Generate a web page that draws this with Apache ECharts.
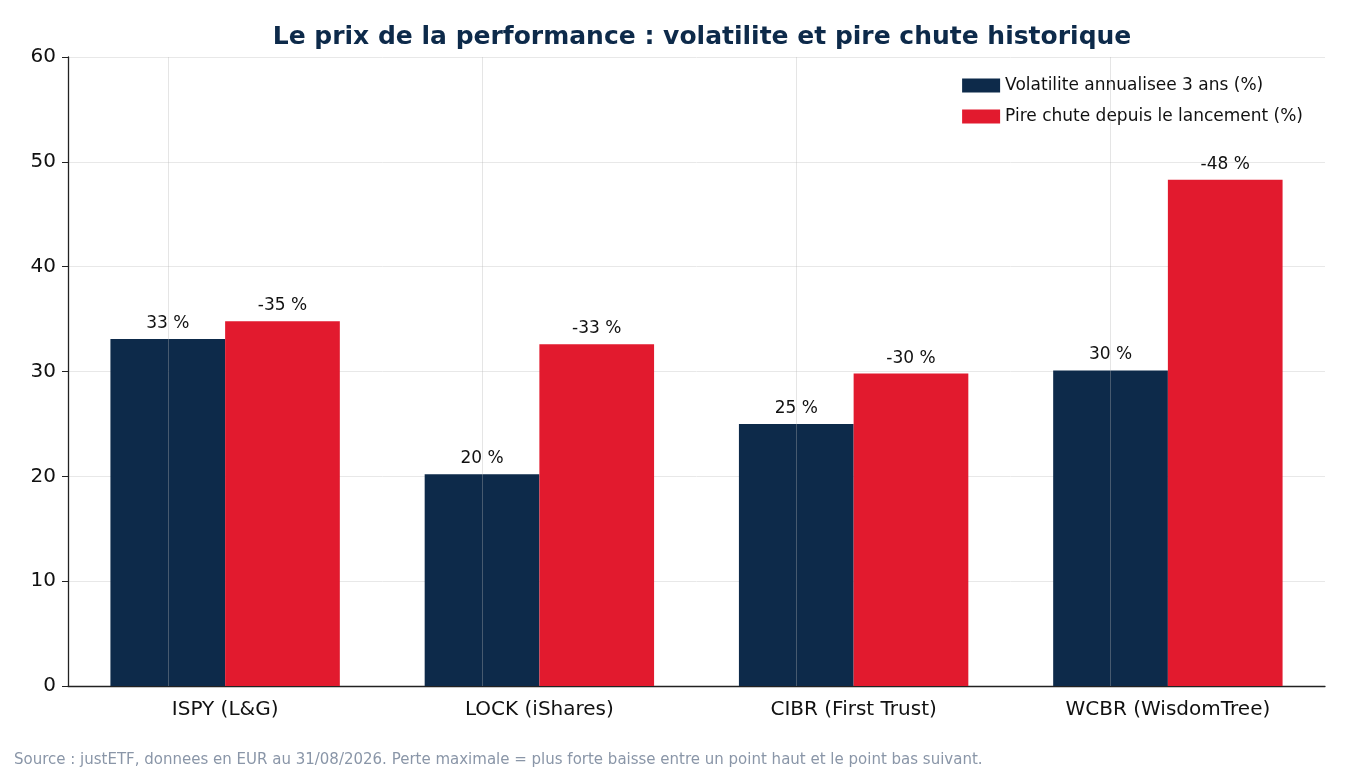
<!DOCTYPE html>
<html><head><meta charset="utf-8">
<script src="https://cdn.jsdelivr.net/npm/echarts@6/dist/echarts.min.js"></script>
<style>html,body{margin:0;padding:0;background:#fff}#c{width:1350px;height:780px}</style>
</head><body><div id="c"></div>
<script>
const categories = ['ISPY (L&G)', 'LOCK (iShares)', 'CIBR (First Trust)', 'WCBR (WisdomTree)'];
const volatility = [33.1, 20.2, 25.0, 30.1];
const drawdown = [34.8, 32.6, 29.8, 48.3];
const volLabels = ['33 %', '20 %', '25 %', '30 %'];
const ddLabels = ['-35 %', '-33 %', '-30 %', '-48 %'];
const yTicks = [0, 10, 20, 30, 40, 50, 60];
const F = 'DejaVu Sans';
const chart = echarts.init(document.getElementById('c'));
chart.setOption({
  animation: false,
  textStyle: { fontFamily: F },
  title: { text: 'Le prix de la performance : volatilite et pire chute historique', left: 697, top: 20, textAlign: 'center',
    textStyle: { fontFamily: F, fontSize: 25, fontWeight: 'bold', color: '#0d2a4a' } },
  legend: { right: 42, top: 72, orient: 'vertical', itemWidth: 38, itemHeight: 14, itemGap: 14,
    textStyle: { fontFamily: F, fontSize: 17, color: '#111' }, icon: 'rect' },
  graphic: [{ type: 'text', left: 14, top: 753, style: { text: 'Source : justETF, donnees en EUR au 31/08/2026. Perte maximale = plus forte baisse entre un point haut et le point bas suivant.', fontFamily: F, fontSize: 15, fill: '#8a96a8' } }],
  grid: { left: 68, right: 25, top: 57, bottom: 94 },
  xAxis: { type: 'category', data: categories,
    axisLine: { lineStyle: { color: '#222', width: 1.3 } },
    axisTick: { alignWithLabel: true, length: 6, lineStyle: { color: '#222' } },
    axisLabel: { fontFamily: F, fontSize: 20, color: '#111', margin: 14 } },
  yAxis: { type: 'value', min: yTicks[0], max: yTicks[yTicks.length - 1], interval: 10,
    axisLine: { show: true, lineStyle: { color: '#222', width: 1.3 } },
    axisTick: { show: true, length: 6, lineStyle: { color: '#222' } },
    axisLabel: { fontFamily: F, fontSize: 20, color: '#111', margin: 12 },
    splitLine: { lineStyle: { color: '#e8e8e8' } } },
  series: [
    { name: 'Volatilite annualisee 3 ans (%)', type: 'bar', data: volatility, barGap: '0%', barCategoryGap: '27%',
      itemStyle: { color: '#0d2a4a' },
      label: { show: true, position: 'top', fontFamily: F, fontSize: 17, color: '#111', distance: 7,
        formatter: p => volLabels[p.dataIndex] },
      markLine: { silent: true, symbol: 'none', label: { show: false }, lineStyle: { color: 'rgba(180,180,180,0.35)', type: 'solid', width: 1 },
        data: categories.map(c => ({ xAxis: c })) } },
    { name: 'Pire chute depuis le lancement (%)', type: 'bar', data: drawdown,
      itemStyle: { color: '#e21a2e' },
      label: { show: true, position: 'top', fontFamily: F, fontSize: 17, color: '#111', distance: 7,
        formatter: p => ddLabels[p.dataIndex] } }
  ]
});
</script></body></html>
